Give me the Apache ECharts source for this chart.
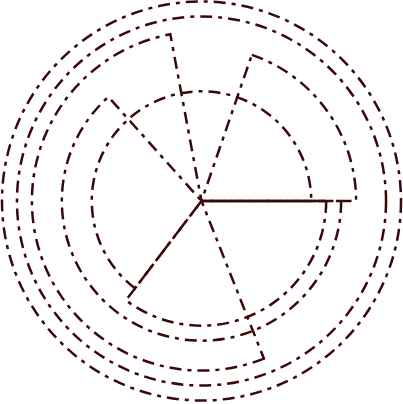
<!DOCTYPE html>
<html><head><meta charset="utf-8">
<script src="https://cdn.jsdelivr.net/npm/echarts@6/dist/echarts.min.js"></script>
<style>html,body{margin:0;padding:0;background:#fff}#c{width:403px;height:404px}</style>
</head><body><div id="c"></div>
<script>
// Each wedge: radius value, start angle and end angle (degrees, counter-clockwise from east)
const radii = [22, 25, 28, 31, 34, 37, 40];
const startAngles = [0, 232.7, 131.8, 0, 100.6, 0, 0];
const endAngles = [232.7, 360, 360, 71, 291.6, 360, 360];
const radiusMax = 40;

const chart = echarts.init(document.getElementById('c'), null, {renderer: 'canvas'});
const polar = [], angleAxis = [], radiusAxis = [], series = [];
for (let i = 0; i < radii.length; i++) {
  polar.push({ center: ['50%', 201], radius: 199.5 });
  angleAxis.push({ polarIndex: i, type: 'value', min: 0, max: 360, startAngle: 0, clockwise: false, show: false });
  radiusAxis.push({ polarIndex: i, type: 'value', min: 0, max: radiusMax, show: false });
  const span = endAngles[i] - startAngles[i];
  series.push({
    type: 'bar', coordinateSystem: 'polar', polarIndex: i,
    barWidth: span,
    data: [[radii[i], startAngles[i] + span / 2]],
    itemStyle: { color: 'rgba(0,0,0,0)', borderColor: '#3a0808', borderWidth: 2.5, borderType: [12, 6, 4, 6] },
    silent: true
  });
}
chart.setOption({ animation: false, polar, angleAxis, radiusAxis, series });
</script>
</body></html>
